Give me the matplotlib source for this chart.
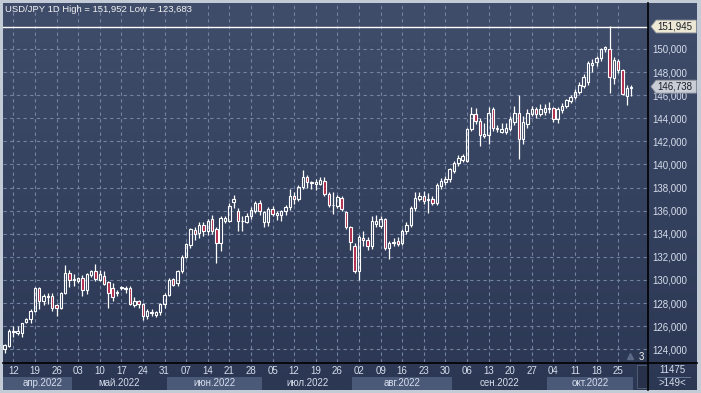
import numpy as np
import pandas as pd
import matplotlib
matplotlib.use("Agg")
import matplotlib.pyplot as plt
from matplotlib.patches import Rectangle, Polygon
from matplotlib.transforms import blended_transform_factory

# USD/JPY daily candles, 8 Apr 2022 .. 28 Oct 2022
opens = [124.0, 124.32, 125.5, 125.45, 125.4, 126.35, 126.65, 127.3, 129.3, 128.2,
         128.55, 128.6, 127.8, 127.6, 128.9, 130.6, 130.0, 129.9, 130.2, 129.1,
         130.4, 130.8, 130.0, 130.35, 129.8, 129.3, 128.9, 129.3, 129.2, 129.3,
         127.8, 128.2, 127.9, 126.9, 127.2, 127.0, 127.2, 127.9, 128.7, 130.1,
         129.7, 130.8, 132.0, 133.0, 134.3, 134.1, 134.8, 134.25, 135.3, 134.4,
         133.2, 135.1, 135.1, 136.75, 136.0, 135.15, 135.05, 135.5, 136.0, 136.7,
         135.0, 135.0, 136.15, 135.6, 135.65, 136.0, 136.3, 137.3, 137.0, 138.05,
         138.9, 138.45, 138.3, 138.35, 138.6, 137.45, 136.45, 136.4, 137.1, 135.85,
         134.55, 132.9, 130.75, 133.65, 133.5, 132.95, 134.85, 134.7, 135.25, 132.8,
         133.2, 133.35, 133.2, 134.2, 134.8, 136.25, 137.05, 137.3, 136.95, 137.0,
         136.7, 138.15, 138.45, 138.7, 139.45, 140.1, 140.4, 140.3, 143.1, 144.4,
         143.8, 142.5, 142.55, 144.8, 143.15, 142.85, 142.85, 143.1, 143.65, 144.5,
         142.2, 143.5, 144.4, 144.8, 144.4, 144.55, 144.8, 144.85, 143.9, 144.7,
         145.1, 145.5, 145.85, 146.3, 146.8, 147.17, 148.6, 148.9, 149.2, 149.97,
         149.97, 147.46, 148.99, 148.18, 145.92, 146.6]
highs = [124.45, 125.77, 126.05, 126.0, 126.3, 126.7, 127.5, 129.4, 129.4, 128.75,
         128.9, 128.9, 127.95, 128.95, 131.3, 130.9, 130.5, 130.3, 130.4, 130.6,
         130.9, 131.4, 130.9, 130.75, 129.95, 129.7, 129.1, 129.5, 129.5, 129.45,
         128.5, 128.3, 128.0, 127.5, 127.5, 127.3, 128.0, 128.9, 130.2, 130.2,
         130.9, 132.2, 133.2, 134.5, 134.6, 135.0, 135.0, 135.3, 135.6, 134.6,
         135.5, 135.5, 136.7, 137.35, 136.2, 135.55, 135.8, 136.3, 136.8, 136.9,
         136.0, 136.3, 136.4, 136.0, 136.1, 136.5, 137.85, 137.6, 138.2, 139.5,
         139.1, 138.6, 138.7, 138.9, 138.9, 137.6, 137.6, 137.4, 137.3, 136.0,
         134.7, 133.2, 133.9, 134.2, 133.7, 135.5, 135.6, 135.5, 135.4, 133.4,
         133.6, 133.7, 134.4, 135.0, 136.4, 137.6, 137.6, 137.7, 137.57, 137.3,
         138.4, 138.8, 139.0, 139.7, 140.3, 140.8, 140.9, 143.2, 145.0, 144.9,
         144.0, 143.6, 145.0, 145.0, 143.4, 143.6, 143.6, 144.2, 145.1, 146.0,
         144.2, 144.8, 145.1, 145.0, 145.2, 145.2, 145.4, 145.0, 145.0, 145.3,
         145.7, 146.0, 146.5, 147.1, 147.8, 149.0, 149.1, 149.4, 150.1, 150.3,
         151.952, 149.3, 149.1, 148.3, 146.9, 146.88]
lows = [123.683, 124.23, 125.05, 125.2, 125.05, 126.25, 126.25, 127.2, 127.5, 127.8,
        127.95, 127.35, 126.9, 127.5, 128.8, 129.4, 129.5, 129.7, 128.65, 128.8,
        130.3, 129.95, 129.9, 129.55, 127.6, 128.2, 128.65, 129.1, 128.9, 127.8,
        127.7, 127.6, 126.5, 126.6, 126.9, 126.8, 127.0, 127.6, 128.6, 129.5,
        129.5, 130.6, 131.9, 132.8, 133.5, 133.6, 133.8, 133.9, 134.0, 131.5,
        132.5, 134.9, 135.0, 136.2, 134.25, 134.25, 134.9, 135.3, 135.8, 135.6,
        134.6, 134.7, 135.5, 135.2, 135.1, 135.6, 136.1, 136.6, 136.8, 137.9,
        138.0, 137.9, 137.8, 138.2, 137.3, 136.3, 135.7, 136.2, 136.0, 134.4,
        132.6, 130.6, 130.0, 132.9, 132.6, 132.7, 134.6, 134.5, 132.6, 131.8,
        132.9, 132.9, 133.0, 134.0, 134.6, 136.0, 136.8, 136.6, 135.8, 136.5,
        136.5, 137.9, 138.2, 138.5, 139.3, 139.9, 140.2, 140.2, 142.9, 143.5,
        141.6, 142.3, 141.8, 142.9, 142.8, 142.7, 142.6, 142.9, 143.4, 140.46,
        141.8, 143.2, 144.2, 144.0, 144.2, 144.3, 144.5, 143.7, 143.6, 144.5,
        144.9, 145.3, 145.7, 146.1, 146.6, 146.9, 148.0, 148.5, 149.0, 149.7,
        146.21, 147.0, 147.9, 146.0, 145.14, 145.92]
closes = [124.35, 125.62, 125.6, 125.62, 126.3, 126.65, 127.3, 129.3, 128.2, 128.65,
          128.65, 127.6, 127.6, 128.9, 130.6, 130.0, 130.05, 130.2, 129.15, 130.55,
          130.8, 130.1, 130.5, 129.65, 128.85, 128.5, 129.0, 129.4, 129.3, 127.9,
          128.2, 127.9, 126.9, 127.3, 127.1, 127.2, 127.9, 128.7, 130.0, 129.6,
          130.8, 132.0, 133.1, 134.4, 134.0, 134.8, 134.2, 135.1, 134.25, 133.2,
          135.4, 135.35, 136.4, 137.05, 135.1, 135.1, 135.55, 136.1, 136.7, 136.0,
          135.85, 136.15, 135.7, 135.8, 136.0, 136.35, 137.3, 137.0, 138.05, 138.9,
          138.5, 138.4, 138.5, 138.65, 137.45, 136.45, 136.5, 137.15, 136.15, 134.55,
          133.25, 130.75, 133.75, 133.5, 132.95, 135.1, 135.1, 135.25, 132.8, 133.2,
          133.3, 133.15, 134.2, 134.8, 136.25, 137.1, 137.3, 136.85, 137.0, 136.7,
          138.2, 138.6, 138.75, 139.6, 140.1, 140.6, 140.7, 143.1, 144.4, 143.8,
          142.55, 142.6, 144.5, 143.2, 143.1, 143.1, 143.2, 143.9, 144.5, 142.2,
          143.65, 144.5, 144.8, 144.4, 144.8, 144.85, 144.85, 143.95, 144.8, 145.1,
          145.55, 145.85, 146.3, 146.85, 147.6, 148.76, 148.8, 149.25, 149.97, 150.2,
          147.6, 149.05, 148.18, 146.1, 146.59, 146.738]

first_day = "2022-04-08"
high_line = 151.945
month_names = ["апр.2022", "май.2022", "июн.2022", "июл.2022",
               "авг.2022", "сен.2022", "окт.2022"]
title = "USD/JPY 1D High = 151,952 Low = 123,683"

W, H = 701, 393
bg_top, bg_bot = "#3f4d6b", "#2b3753"
txt_col = "#d6deec"
grid_col = "#7382a0"
red = "#b02848"

plt.rcParams["font.family"] = ["Liberation Sans", "DejaVu Sans"]

fig = plt.figure(figsize=(W / 100, H / 100), dpi=100, facecolor="#c3cbd7")

# navy gradient behind everything
bg = fig.add_axes([3 / W, 3 / H, 694 / W, 387 / H])
bg.imshow(np.linspace(0, 1, 256).reshape(-1, 1), aspect="auto",
          cmap=matplotlib.colors.LinearSegmentedColormap.from_list("g", [bg_top, bg_bot]),
          extent=[0, 1, 0, 1], origin="upper")
bg.axis("off")

# main price panel: pixels x 3..648, y 3..362
ax = fig.add_axes([3 / W, 31 / H, 645 / W, 359 / H])
ax.patch.set_alpha(0)
n = len(opens)
dates = pd.bdate_range(first_day, periods=n)
idx = np.arange(n)

ax.set_xlim(-0.39, 148.9)
ax.set_ylim(122.9, 153.98)
for s in ax.spines.values():
    s.set_visible(False)

yt = np.arange(124, 151, 2)
ax.yaxis.tick_right()
ax.set_yticks(yt)
ax.set_yticklabels([f"{v:.3f}".replace(".", ",") for v in yt])
xt = idx[dates.weekday == 1]
ax.set_xticks(xt)
ax.set_xticklabels([d.strftime("%d") for d in dates[xt]])
ax.tick_params(length=0, labelsize=7, colors=txt_col)
ax.tick_params(axis="y", pad=3)
ax.tick_params(axis="x", pad=3)
ax.grid(True, color=grid_col, linestyle=(0, (3, 3)), linewidth=0.8)
ax.set_axisbelow(True)

o, h, l, c = map(np.array, (opens, highs, lows, closes))
top = np.maximum(o, c)
bot = np.minimum(o, c)
ax.vlines(idx, top, h, color="white", linewidth=0.9, zorder=3)
ax.vlines(idx, l, bot, color="white", linewidth=0.9, zorder=3)
bw = 0.56
for i in idx:
    fc = red if c[i] < o[i] else "none"
    ax.add_patch(Rectangle((i - bw / 2, bot[i]), bw, top[i] - bot[i],
                           facecolor=fc, edgecolor="white", linewidth=0.8, zorder=4))

ax.axhline(high_line, color="white", linewidth=1.0, zorder=2)

# price tags on the right scale
tr = blended_transform_factory(ax.transAxes, ax.transData)
def tag(val, face):
    hh = 0.56
    ax.add_patch(Polygon([[1.0045, val], [1.0125, val + hh], [1.075, val + hh],
                          [1.075, val - hh], [1.0125, val - hh]], closed=True,
                         facecolor=face, edgecolor="#8a8f99", linewidth=0.6,
                         transform=tr, clip_on=False, zorder=6))
    ax.text(1.0145, val, f"{val:.3f}".replace(".", ","), transform=tr, fontsize=7,
            color="#1a1e28", va="center", ha="left", zorder=7, clip_on=False)
tag(high_line, "#ece8d3")
tag(c[-1], "#c9cdd6")

# month bands along the bottom
bt = blended_transform_factory(ax.transData, ax.transAxes)
months = dates.to_period("M")
for k, m in enumerate(months.unique()):
    sel = idx[months == m]
    x0, x1 = sel[0] - 0.5, sel[-1] + 0.5
    if k % 2 == 0:
        ax.add_patch(Rectangle((x0, -0.078), x1 - x0, 0.037, transform=bt,
                               facecolor="#4b5978", edgecolor="none", clip_on=False))
    xm = (x0 + x1) / 2 + (1.3 if k == 0 else 0)
    ax.text(xm, -0.059, month_names[k], transform=bt, fontsize=7,
            color=txt_col, ha="center", va="center", clip_on=False)

# overlay in pixel coordinates for frame lines and captions
ov = fig.add_axes([0, 0, 1, 1])
ov.set_xlim(0, W)
ov.set_ylim(H, 0)
ov.axis("off")
ov.patch.set_alpha(0)
ov.plot([648, 648], [3, 390], color="black", linewidth=1.2)
ov.plot([3, 697], [363, 363], color="black", linewidth=1.2)
ov.add_patch(Rectangle((637, 365), 10, 23, facecolor="#27324a", edgecolor="#56627a", linewidth=0.6))
ov.text(5, 9, title, fontsize=6.8, color="#f2f2f2", va="center", ha="left")
ov.text(641, 357, "3", fontsize=7, color="#f2f2f2", va="center", ha="center")
ov.plot([630], [356], marker="^", markersize=5, color="#5d6a86")
ov.text(672, 370, "11475", fontsize=7, color=txt_col, ha="center", va="center")
ov.plot([657, 690], [377, 377], color="#7080a0", linewidth=0.6)
ov.text(672, 383, ">149<", fontsize=7, color=txt_col, ha="center", va="center")

fig.savefig("out.png", dpi=100, facecolor=fig.get_facecolor())
